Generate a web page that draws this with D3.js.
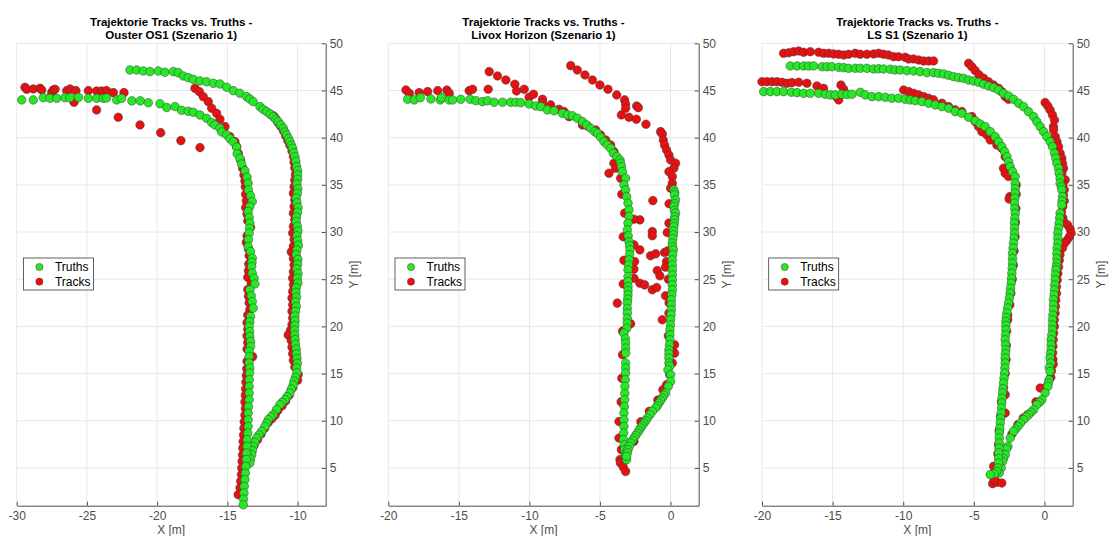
<!DOCTYPE html>
<html>
<head>
<meta charset="utf-8">
<script src="https://cdn.jsdelivr.net/npm/d3@7"></script>
<style>
  body { margin: 0; background: #fff; }
  svg { display: block; font-family: "Liberation Sans", Arial, sans-serif; }
  .tick text { fill: #4d4d4d; font-size: 12px; }
  .domain, .tick line { stroke: #4d4d4d; }
</style>
</head>
<body>
<svg id="chart" width="1113" height="536"></svg>
<script>
// ---- data ----
const titleLine1 = 'Trajektorie Tracks vs. Truths -';
const sensorTitles = ['Ouster OS1 (Szenario 1)', 'Livox Horizon (Szenario 1)', 'LS S1 (Szenario 1)'];
const legendLabels = ['Truths', 'Tracks'];
const xTicksOS1 = [-30, -25, -20, -15, -10];
const xTicksOther = [-20, -15, -10, -5, 0];
const yTicks = [5, 10, 15, 20, 25, 30, 35, 40, 45, 50];

const os1Truths = [
  [-21.93,47.17],[-21.46,47.17],[-20.99,47.07],[-20.51,47.0],[-19.92,47.07],[-19.45,46.93],[-18.85,47.0],[-18.5,46.89],[-18.14,46.54],[-17.79,46.36],[-17.43,46.19],[-16.95,46.01],[-16.48,45.93],[-16.0,45.76],[-15.53,45.69],[-15.05,45.34],[-14.58,44.98],[-14.11,44.71],[-13.63,44.35],[-13.4,44.1],[-13.16,43.82],[-12.68,43.29],[-12.45,43.0],[-12.2,42.76],[-11.95,42.5],[-11.74,42.23],[-11.55,41.95],[-11.38,41.7],[-11.2,41.35],[-11.02,41.0],[-10.9,40.6],[-10.78,40.29],[-10.65,39.9],[-10.55,39.58],[-10.45,39.2],[-10.36,38.88],[-10.28,38.4],[-10.19,37.99],[-10.12,37.5],[-10.07,36.93],[-10.0,36.5],[-10.0,36.05],
  [-10.0,35.6],[-10.05,35.1],[-9.98,34.6],[-10.02,34.1],[-10.1,33.6],[-10.05,33.1],[-9.97,32.6],[-10.0,32.1],[-10.08,31.6],[-10.1,31.1],[-10.02,30.6],[-9.98,30.1],[-10.05,29.6],[-10.0,29.1],[-9.95,28.6],[-10.05,28.1],[-10.1,27.6],[-9.98,27.1],[-10.0,26.6],[-10.05,26.1],[-9.97,25.6],[-10.02,25.1],[-9.98,24.6],[-10.1,24.1],[-10.12,23.6],[-10.08,23.1],[-10.15,22.6],[-10.1,22.1],[-10.15,21.6],[-10.2,21.1],[-10.18,20.6],[-10.2,20.1],[-10.22,19.6],[-10.2,19.1],[-10.18,18.6],[-10.15,18.1],[-10.1,17.6],[-10.08,17.1],[-10.05,16.6],[-10.02,16.1],[-10.07,15.6],[-10.05,15.1],[-10.15,14.6],[-10.25,14.2],[-10.31,13.8],[-10.45,13.35],[-10.55,12.94],[-10.75,12.55],[-10.9,12.23],[-11.1,11.95],[-11.26,11.7],[-11.5,11.2],[-11.74,10.64],[-11.9,10.4],[-12.09,10.11],[-12.2,9.75],[-12.33,9.4],[-12.56,8.87],[-12.75,8.5],[-12.92,8.17],[-13.05,7.7],[-13.16,7.29],[-13.22,6.85],[-13.27,6.41],[-13.35,5.95],[-13.4,5.53],
  [-29.64,44.0],[-28.82,44.0],[-28.1,44.24],[-27.63,44.17],[-27.15,44.17],[-26.56,44.24],[-26.2,44.24],[-25.6,44.27],[-24.9,44.17],[-24.3,44.17],[-23.84,44.17],[-23.6,44.2],[-22.88,44.0],[-22.53,44.17],[-21.8,43.9],[-21.2,43.9],[-20.63,43.7],[-19.8,43.6],[-19.32,43.2],[-18.73,43.3],[-18.26,42.9],[-17.79,42.8],[-17.43,42.7],[-16.95,42.4],[-16.48,42.05],[-16.12,41.6],[-15.89,41.35],[-15.53,41.0],[-15.4,40.6],[-15.05,40.3],[-14.82,39.9],[-14.58,39.55],[-14.34,39.0],[-14.3,38.3],[-14.1,37.8],[-13.99,37.2],[-13.75,36.5],[-13.6,35.8],
  [-13.52,35.17],[-13.5,34.47],[-13.35,33.85],[-13.23,33.23],[-13.4,32.7],[-13.52,32.17],[-13.45,31.55],[-13.4,30.94],[-13.42,30.4],[-13.45,29.88],[-13.5,29.2],[-13.52,28.46],[-13.35,27.93],[-13.23,27.23],[-13.25,26.8],[-13.27,26.34],[-13.23,25.64],[-13.1,25.1],[-13.04,24.5],[-13.4,23.88],[-13.3,23.25],[-13.23,22.64],[-13.16,21.94],[-13.35,21.05],[-13.4,20.5],[-13.45,20.0],[-13.42,19.45],[-13.4,18.93],[-13.35,18.4],[-13.35,17.87],[-13.45,17.35],[-13.45,16.82],[-13.45,16.12],[-13.4,15.6],[-13.42,15.06],[-13.44,14.35],[-13.45,13.64],[-13.45,12.95],[-13.45,12.23],[-13.5,11.5],[-13.52,10.82],[-13.52,10.1],[-13.52,9.4],[-13.55,8.7],[-13.59,8.0],[-13.6,7.3],[-13.63,6.59],[-13.65,5.9],[-13.68,5.17],[-13.72,4.45],[-13.75,3.76],[-13.8,3.05],[-13.82,2.35],[-13.85,1.7],[-13.87,1.1]
];
const os1Tracks = [
  [-29.41,45.34],[-29.29,45.13],[-28.82,45.16],[-28.34,45.23],[-28.22,45.05],[-27.51,44.77],[-27.4,45.05],[-27.27,45.13],[-26.44,44.98],[-26.2,45.16],[-25.78,44.98],[-25.92,43.75],[-24.9,44.98],[-24.31,44.95],[-23.95,44.95],[-23.6,44.98],[-23.12,44.77],[-22.36,44.77],
  [-24.31,42.94],[-22.77,42.16],[-21.22,41.35],[-19.75,40.53],[-18.31,39.69],[-16.95,38.95],
  [-17.31,45.23],[-17.0,44.88],[-16.72,44.35],[-16.36,43.82],[-16.12,43.12],[-15.77,42.59],[-15.53,41.95],[-15.17,41.17],[-14.82,40.11],[-14.46,39.58],[-14.34,39.05],[-14.23,38.35],[-14.06,37.64],[-13.91,36.76],[-13.82,36.05],
  [-13.75,35.4],[-13.72,34.8],[-13.7,34.0],[-13.65,33.3],[-13.7,32.6],[-13.6,31.9],[-13.55,31.2],[-13.35,30.5],[-13.6,29.6],[-13.65,28.9],[-13.5,28.2],[-13.45,27.5],[-13.48,26.6],[-13.5,25.9],[-13.55,25.2],[-13.3,24.6],[-13.55,23.9],[-13.5,23.2],[-13.45,22.5],[-13.4,21.8],[-13.55,21.2],[-13.6,20.4],[-13.55,19.7],[-13.6,19.0],[-13.55,18.3],[-13.6,17.6],[-13.2,16.8],[-13.6,16.3],[-13.62,15.5],[-13.65,14.8],[-13.68,14.1],[-13.7,13.4],[-13.72,12.7],[-13.75,12.0],[-13.72,11.3],[-13.75,10.6],[-13.8,9.9],[-13.82,9.2],[-13.85,8.5],[-13.88,7.8],[-13.9,7.1],[-13.92,6.4],[-13.95,5.7],[-13.98,5.0],[-14.0,4.3],[-14.05,3.6],[-14.1,2.9],[-14.23,2.17],
  [-11.9,42.45],[-11.7,42.3],[-11.55,42.0],[-11.4,41.6],[-11.2,41.2],[-11.0,40.7],[-10.85,40.2],[-10.7,39.7],[-10.55,39.2],[-10.4,38.6],[-10.3,38.0],[-10.25,37.4],[-10.2,36.8],[-10.15,36.1],
  [-10.2,35.5],[-10.25,34.8],[-10.3,34.1],[-10.2,33.4],[-10.25,32.7],[-10.3,32.0],[-10.2,31.3],[-10.3,30.6],[-10.35,29.9],[-10.25,29.2],[-10.3,28.5],[-10.45,27.9],[-10.3,27.2],[-10.25,26.5],[-10.3,25.8],[-10.35,25.1],[-10.3,24.4],[-10.35,23.7],[-10.4,23.0],[-10.35,22.3],[-10.4,21.6],[-10.35,20.9],[-10.4,20.2],[-10.5,19.6],[-10.67,19.1],[-10.45,18.5],[-10.4,17.8],[-10.35,17.1],[-10.3,16.4],[-10.2,15.7],[-9.96,14.9],[-10.0,14.3],[-10.35,13.5],[-10.6,12.7],[-10.85,12.1],[-11.1,11.6],[-11.4,11.1],[-11.6,10.6],[-11.85,10.2],[-12.1,9.8],[-12.35,9.2],[-12.6,8.6],[-12.85,8.0],[-13.1,7.4]
];

const livoxTruths = [
  [-18.63,44.07],[-18.16,44.0],[-17.73,44.24],[-16.98,44.1],[-16.32,44.0],[-16.22,44.24],[-15.68,44.0],[-15.44,44.0],[-14.86,44.07],[-14.2,44.07],[-13.79,43.92],[-13.32,43.82],[-12.97,43.92],[-12.5,43.75],[-11.9,43.75],[-11.32,43.75],[-10.96,43.75],[-10.61,43.71],[-10.02,43.57],[-9.55,43.36],[-9.19,43.29],[-8.72,42.94],[-8.25,42.86],[-7.66,42.59],[-7.3,42.41],[-6.95,42.33],[-6.6,42.06],[-6.24,41.7],[-5.94,41.35],[-5.65,41.0],[-5.37,40.64],[-5.18,40.47],[-4.95,40.05],[-4.71,39.58],[-4.47,39.23],[-4.24,38.88],[-4.05,38.35],[-3.8,38.0],[-3.58,37.64],[-3.53,37.29],[-3.48,36.93],[-3.41,36.4],[-3.18,35.7],
  [-3.3,35.0],[-3.18,34.47],[-3.11,33.76],[-3.01,33.06],[-2.94,32.35],[-2.94,31.64],[-3.01,30.94],[-3.06,30.23],[-3.0,29.6],[-2.94,28.99],[-2.9,28.55],[-2.87,28.11],[-2.9,27.6],[-2.94,27.05],[-2.97,26.5],[-3.01,25.99],[-3.01,25.29],[-3.01,24.75],[-3.01,24.23],[-3.01,23.8],[-3.01,23.35],[-3.03,22.9],[-3.06,22.47],[-3.06,21.9],[-3.06,21.41],[-3.06,20.85],[-3.06,20.35],[-3.1,19.8],[-3.3,19.29],[-3.2,18.7],[-3.18,18.23],[-3.18,17.7],[-3.18,17.17],
  [-3.18,16.12],[-3.18,15.6],[-3.18,15.06],[-3.2,14.35],[-3.23,13.64],[-3.24,12.9],[-3.25,12.23],[-3.27,11.5],[-3.3,10.82],[-3.3,10.1],[-3.3,9.4],[-3.32,8.7],[-3.34,8.0],[-3.28,7.45],[-3.25,6.94],[-3.2,6.5],[-3.18,6.23],[-3.11,5.88],
  [0.24,34.47],[0.3,34.2],[0.29,33.94],[0.36,33.41],[0.3,33.0],[0.24,32.7],[0.28,32.3],[0.36,32.0],[0.3,31.6],[0.29,31.29],[0.26,30.9],[0.24,30.58],[0.22,30.1],[0.2,29.7],[0.16,29.3],[0.13,28.82],[0.15,28.45],[0.2,28.11],[0.16,27.6],[0.13,27.05],[0.13,26.5],[0.13,25.99],[0.13,25.45],[0.13,24.94],[0.13,24.4],[0.13,23.88],[0.1,23.35],[0.06,22.82],[0.06,22.3],[0.06,21.76],[0.04,21.25],[0.01,20.7],[0.0,20.15],[-0.04,19.64],[-0.04,19.1],[-0.04,18.58],[-0.07,18.05],[-0.11,17.52],[-0.11,17.1],[-0.11,16.64],
  [-0.11,16.12],[-0.05,15.8],[-0.18,15.41],[0.01,14.88],[0.01,14.17],[-0.16,13.64],[-0.35,12.94],[-0.47,12.7],[-0.58,12.41],[-0.7,12.15],[-0.82,11.88],[-0.93,11.6],[-1.05,11.35],[-1.29,11.0],[-1.45,10.65],[-1.64,10.29],[-1.75,10.0],[-1.88,9.76],[-2.0,9.5],[-2.12,9.23],[-2.24,8.95],[-2.35,8.7],[-2.47,8.45],[-2.59,8.17],[-2.7,7.9],[-2.82,7.64],[-2.92,7.3],[-3.01,6.94],[-3.06,6.6],[-3.11,6.23]
];
const livoxTracks = [
  [-18.75,45.05],[-18.51,44.7],[-17.81,44.77],[-17.21,44.88],[-16.5,44.98],[-15.85,45.05],[-15.68,44.7],[-14.27,44.98],[-14.03,45.13],[-12.92,45.13],[-12.85,47.0],[-12.26,46.54],[-11.67,46.11],[-11.03,45.66],[-10.91,44.95],[-10.37,45.13],[-10.02,44.28],[-9.71,44.6],[-9.07,44.07],[-9.07,43.71],[-8.49,43.47],[-7.9,43.01],[-7.54,42.76],[-7.19,42.23],[-6.24,41.35],[-5.89,41.24],[-5.3,40.82],[-4.95,40.29],[-4.59,39.76],[-4.24,39.23],[-4.01,38.52],[-4.01,37.29],[-3.89,36.76],[-4.36,36.23],[-3.53,35.7],
  [-7.07,47.63],[-6.6,47.17],[-6.06,46.64],[-5.53,46.11],[-5.0,45.58],[-4.43,45.13],[-3.81,44.53],[-3.25,44.0],[-3.18,43.57],[-3.18,43.12],[-2.4,43.36],[-2.28,43.18],[-3.48,42.41],[-2.94,42.16],[-2.42,41.95],[-1.74,41.42],[-0.7,40.64],[-0.58,40.4],[-0.51,39.76],[-0.42,39.23],[-0.28,38.7],[-0.11,38.17],[0.01,37.64],[0.36,37.29],[0.24,36.76],[-0.11,36.4],[0.13,35.88],
  [0.13,35.17],[0.01,34.65],[-1.25,33.33],[-2.17,31.29],[-2.59,31.36],[-3.25,32.0],[-1.29,30.05],[-1.29,29.6],[-0.23,29.95],[-0.11,30.94],[-2.59,28.64],[-2.17,28.11],[-1.41,27.48],[-1.05,27.69],[-0.42,27.83],[-0.28,26.87],[-0.35,26.28],[-0.94,25.92],[-0.75,25.36],[-2.59,26.07],[-2.54,26.87],[-2.59,25.11],[-2.17,24.58],[-1.83,24.4],[-1.29,23.88],[-0.98,24.12],[-0.35,23.24],[-0.58,20.7],[-3.77,22.47],[-2.82,20.28],[0.29,17.17],[0.29,18.05],[-0.11,21.41],
  [-3.45,34.0],[-3.35,29.5],[-3.3,27.0],[-3.35,24.5],[-3.4,19.5],[-3.4,17.0],[-3.45,14.5],[-3.5,12.0],[-3.65,9.93],[-3.65,8.17],[-3.48,6.94],[-3.58,5.88],[-3.55,5.53],[-3.35,5.1],[-3.18,4.64],
  [-0.1,33.0],[-0.2,28.0],[-0.15,25.0],[-0.1,22.5],[-0.15,19.0],[0.13,16.12],[-0.06,14.9],[-0.28,13.82],[-0.54,13.29],[-0.9,12.2],[-1.5,11.0],[-2.1,9.9],[-2.59,7.82]
];

const ls1Truths = [
  [-18.0,47.6],[-17.52,47.6],[-17.05,47.6],[-16.7,47.6],[-16.34,47.6],[-15.75,47.52],[-15.4,47.52],[-15.05,47.52],[-14.57,47.46],[-14.22,47.42],[-13.87,47.35],[-13.4,47.35],[-13.04,47.35],[-12.57,47.35],[-12.1,47.28],[-11.75,47.3],[-11.39,47.28],[-10.92,47.25],[-10.57,47.17],[-10.21,47.17],[-9.74,47.1],[-9.27,47.07],[-8.8,47.0],[-8.32,46.89],[-7.85,46.89],[-7.5,46.82],[-7.14,46.75],[-6.79,46.61],[-6.43,46.46],[-6.08,46.36],[-5.73,46.29],[-5.37,46.11],[-5.02,46.01],[-4.66,45.87],[-4.31,45.66],[-3.96,45.48],[-3.6,45.3],[-3.25,45.05],[-2.9,44.7],[-2.54,44.42],[-2.19,44.07],[-1.83,43.65],[-1.48,43.29],[-1.13,42.76],[-0.77,42.23],[-0.54,41.7],[-0.3,41.17],[-0.06,40.64],[0.17,40.11],[0.4,39.58],[0.57,39.05],[0.71,38.35],[0.81,37.82],[0.88,37.29],[1.0,36.76],[1.04,36.23],[1.11,35.7],
  [1.11,35.17],[1.2,34.8],[1.23,34.47],[1.28,33.76],[1.25,33.3],[1.23,32.88],[1.11,32.0],[1.08,31.5],[1.04,30.94],[1.0,30.4],[0.95,29.88],[0.95,29.35],[0.95,28.82],[0.9,28.3],[0.88,27.76],[0.88,27.2],[0.88,26.7],[0.85,26.3],[0.81,25.99],[0.78,25.45],[0.76,24.94],[0.73,24.4],[0.71,23.88],[0.68,23.35],[0.64,22.82],[0.64,22.3],[0.64,21.76],[0.6,21.2],[0.57,20.7],[0.57,20.15],[0.57,19.64],[0.52,19.1],[0.47,18.58],[0.47,18.05],[0.47,17.52],[0.43,17.1],[0.4,16.64],[0.45,16.12],[0.35,15.65],[0.4,15.23],[0.33,14.35],[0.28,14.0],[0.24,13.64],[0.05,12.94],[-0.18,12.23],[-0.36,11.95],[-0.54,11.7],[-0.77,11.17],[-0.95,10.9],[-1.13,10.64],[-1.3,10.4],[-1.48,10.11],[-1.7,9.75],[-1.88,9.4],[-2.05,9.1],[-2.19,8.87],[-2.43,8.17],[-2.59,7.29],[-2.7,7.0],[-2.78,6.41],[-2.9,6.0],[-2.97,5.7],[-3.06,5.0],[-3.2,4.47],
  [-19.88,44.88],[-19.41,44.88],[-18.94,44.88],[-18.47,44.88],[-17.92,44.81],[-17.52,44.77],[-17.05,44.7],[-16.58,44.7],[-15.99,44.7],[-15.52,44.6],[-15.16,44.53],[-14.81,44.53],[-14.34,44.6],[-13.98,44.58],[-13.63,44.6],[-13.04,44.81],[-12.69,44.53],[-12.22,44.35],[-11.74,44.35],[-11.27,44.28],[-10.8,44.18],[-10.33,44.18],[-9.86,44.07],[-9.5,44.0],[-9.15,43.92],[-8.68,43.82],[-8.2,43.65],[-7.73,43.47],[-7.26,43.29],[-6.79,43.12],[-6.32,42.76],[-5.85,42.59],[-5.37,42.16],[-4.9,41.8],[-4.55,41.45],[-4.2,41.17],[-3.84,40.64],[-3.49,40.11],[-3.25,39.58],[-3.02,39.05],[-2.82,38.52],[-2.66,37.99],[-2.54,37.46],[-2.43,36.93],[-2.26,36.4],[-2.07,35.88],
  [-2.07,35.17],[-2.07,34.6],[-2.07,34.12],[-2.1,33.6],[-2.12,33.06],[-2.1,32.5],[-2.07,32.0],[-2.1,31.45],[-2.12,30.94],[-2.12,30.4],[-2.12,29.88],[-2.15,29.35],[-2.19,28.82],[-2.22,28.3],[-2.26,27.76],[-2.26,27.2],[-2.26,26.7],[-2.28,26.15],[-2.31,25.64],[-2.33,25.1],[-2.35,24.59],[-2.4,24.05],[-2.43,23.53],[-2.48,23.0],[-2.54,22.47],[-2.6,21.95],[-2.66,21.41],[-2.7,20.95],[-2.73,20.52],[-2.73,20.1],[-2.73,19.64],[-2.75,19.1],[-2.78,18.58],[-2.75,18.05],[-2.73,17.52],[-2.76,17.1],[-2.78,16.64],[-2.78,16.12],[-2.8,15.6],[-2.82,15.06],[-2.86,14.5],[-2.9,14.0],[-2.94,13.4],[-2.97,12.94],[-3.0,12.4],[-3.02,11.88],[-3.04,11.35],[-3.06,10.82],[-3.1,10.25],[-3.13,9.76],[-3.16,9.2],[-3.2,8.7],[-3.2,8.17],[-3.2,7.64],[-3.22,7.1],[-3.25,6.59],[-3.25,6.0],[-3.25,5.53],[-3.3,5.0],[-3.37,4.64],[-3.55,4.4],[-3.84,4.29]
];
const ls1Tracks = [
  [-18.47,48.94],[-18.11,49.0],[-17.76,49.11],[-17.4,49.18],[-17.05,49.05],[-16.58,49.11],[-15.99,49.05],[-15.64,48.94],[-15.28,48.94],[-14.93,48.87],[-14.57,48.84],[-14.22,48.76],[-13.87,48.84],[-13.4,48.94],[-13.04,48.84],[-12.57,48.84],[-12.1,48.87],[-11.74,48.94],[-11.39,48.84],[-11.04,48.76],[-10.68,48.58],[-10.33,48.58],[-9.86,48.52],[-9.62,48.34],[-9.27,48.34],[-8.91,48.23],[-8.56,48.13],[-8.2,48.13],[-7.85,48.13],
  [-20.0,45.93],[-19.65,45.93],[-19.29,45.93],[-18.94,45.93],[-18.58,45.87],[-18.23,45.76],[-17.88,45.83],[-17.4,45.87],[-16.82,45.76],[-16.11,45.48],[-15.64,45.23],[-14.74,44.35],[-14.57,44.0],[-14.41,45.58],[-14.22,45.13],[-14.1,44.7],
  [-9.97,45.05],[-9.62,44.88],[-9.27,44.7],[-8.91,44.53],[-8.56,44.35],[-8.2,44.18],[-7.85,44.0],[-7.26,43.65],[-6.79,43.29],[-6.32,42.94],[-5.85,42.76],[-5.14,42.23],[-4.9,41.7],[-4.66,41.17],[-4.43,40.64],[-4.08,40.29],[-3.84,39.76],[-3.37,39.23],[-3.02,38.88],[-2.78,37.99],[-2.9,36.76],[-2.78,36.23],[-2.54,35.88],
  [-5.37,47.88],[-5.14,47.52],[-4.9,47.1],[-4.62,46.64],[-4.31,46.29],[-3.96,45.93],[-3.6,45.58],[-3.25,45.23],[-3.02,44.88],[-2.78,44.35],[-2.54,44.07],
  [0.05,43.71],[0.24,43.36],[0.4,42.94],[0.57,42.41],[0.71,41.88],[0.64,41.17],[0.64,40.82],[0.76,40.11],[0.88,39.58],[1.0,39.05],[1.11,38.35],[1.23,37.82],[1.28,37.29],[1.35,36.76],[1.23,36.23],[1.47,35.53],
  [1.3,35.0],[1.4,34.5],[1.35,33.9],[1.4,33.3],[1.3,32.7],[1.2,32.1],[1.3,31.5],[1.35,31.1],[1.63,30.76],[1.82,30.3],[1.89,29.88],[1.75,29.46],[1.58,29.1],[1.42,28.82],[1.28,28.3],[1.1,27.6],[1.05,27.0],[1.0,26.3],[0.95,25.6],[0.9,24.9],[0.85,24.2],[0.85,23.5],[0.8,22.8],[0.78,22.1],[0.75,21.4],[0.7,20.7],[0.7,20.0],[0.65,19.3],[0.62,18.6],[0.6,17.9],[0.58,17.2],[0.6,16.5],[0.62,16.0],[0.5,15.3],[0.45,14.6],[0.17,13.64],[-0.3,13.47],[-0.6,12.0],[-1.2,10.64],[-1.5,10.3],[-1.88,9.6],[-2.3,8.6],
  [-2.0,35.0],[-2.0,34.0],[-2.45,33.76],[-2.5,33.5],[-2.02,32.5],[-2.05,31.0],[-2.08,29.5],[-2.15,28.0],[-2.2,26.5],[-2.28,25.0],[-2.38,23.5],[-2.45,22.3],[-2.6,21.2],[-2.6,20.7],[-2.68,19.5],[-2.7,18.0],[-2.72,16.5],[-2.78,15.0],[-2.9,13.5],[-2.78,12.77],[-2.78,10.82],[-3.05,12.0],[-3.1,10.5],[-3.2,9.0],[-3.25,7.5],[-3.3,6.5],[-3.6,5.17],[-3.72,4.29],[-3.67,3.34],[-3.37,3.48],[-3.02,3.41],[-3.55,3.8]
];

// ---- layout ----
const svg = d3.select('#chart');
const plotTop = 43.3, plotBottom = 505.7;
const truthColor = '#26e826', trackColor = '#e81010';

const panels = [
  {title: sensorTitles[0], xDomain: [-30, -8], xTicks: xTicksOS1, truths: os1Truths, tracks: os1Tracks, left: 16.7, right: 325.7},
  {title: sensorTitles[1], xDomain: [-20, 2], xTicks: xTicksOther, truths: livoxTruths, tracks: livoxTracks, left: 388.3, right: 698.7},
  {title: sensorTitles[2], xDomain: [-20, 2], xTicks: xTicksOther, truths: ls1Truths, tracks: ls1Tracks, left: 762, right: 1072.7}
];

panels.forEach(p => {
  const g = svg.append('g');
  const x = d3.scaleLinear().domain(p.xDomain).range([p.left, p.right]);
  const y = d3.scaleLinear().domain([1, 50]).range([plotBottom, plotTop]);

  // grid
  g.selectAll('.gx').data(p.xTicks).enter().append('line')
    .attr('x1', d => x(d)).attr('x2', d => x(d))
    .attr('y1', plotTop).attr('y2', plotBottom)
    .attr('stroke', '#e8e8e8').attr('stroke-width', 1);
  g.selectAll('.gy').data(yTicks).enter().append('line')
    .attr('x1', p.left).attr('x2', p.right)
    .attr('y1', d => y(d)).attr('y2', d => y(d))
    .attr('stroke', '#e8e8e8').attr('stroke-width', 1);

  // axes (ticks pointing inward, like MATLAB)
  g.append('g')
    .attr('transform', `translate(0, ${plotBottom})`)
    .call(d3.axisBottom(x).tickValues(p.xTicks).tickFormat(d => String(d))
      .tickSizeInner(-4).tickSizeOuter(0).tickPadding(6));
  g.append('g')
    .attr('transform', `translate(${p.right}, 0)`)
    .call(d3.axisRight(y).tickValues(yTicks).tickFormat(d => String(d))
      .tickSizeInner(-4).tickSizeOuter(0).tickPadding(4));

  // markers: tracks below, truths on top
  const dots = (data, color) => g.append('g').selectAll('circle').data(data).enter().append('circle')
    .attr('cx', d => x(d[0])).attr('cy', d => y(d[1])).attr('r', 4.3)
    .attr('fill', color).attr('stroke', '#3a3a3a').attr('stroke-width', 0.5);
  dots(p.tracks, trackColor);
  dots(p.truths, truthColor);

  // titles
  const cx = (p.left + p.right) / 2;
  g.append('text').attr('x', cx).attr('y', 25.5).attr('text-anchor', 'middle')
    .style('font-size', '11.5px').style('font-weight', 'bold').attr('fill', '#000').text(titleLine1);
  g.append('text').attr('x', cx).attr('y', 39).attr('text-anchor', 'middle')
    .style('font-size', '11.5px').style('font-weight', 'bold').attr('fill', '#000').text(p.title);

  // axis labels
  g.append('text').attr('x', cx).attr('y', 533.5).attr('text-anchor', 'middle')
    .style('font-size', '12px').attr('fill', '#4d4d4d').text('X [m]');
  g.append('text').attr('transform', `translate(${p.right + 32}, ${(plotTop + plotBottom) / 2}) rotate(-90)`)
    .attr('text-anchor', 'middle').style('font-size', '12px').attr('fill', '#4d4d4d').text('Y [m]');

  // legend
  const lx = p.left + 6.7, ly = 258;
  const lg = g.append('g').attr('transform', `translate(${lx}, ${ly})`);
  lg.append('rect').attr('width', 70).attr('height', 32)
    .attr('fill', '#fff').attr('stroke', '#3a3a3a').attr('stroke-width', 0.8);
  const entries = lg.selectAll('.entry').data(legendLabels).enter().append('g')
    .attr('transform', (d, i) => `translate(0, ${9 + i * 14.7})`);
  entries.append('circle').attr('cx', 16).attr('cy', 0).attr('r', 3.6)
    .attr('fill', (d, i) => i === 0 ? truthColor : trackColor)
    .attr('stroke', '#3a3a3a').attr('stroke-width', 0.5);
  entries.append('text').attr('x', 31.5).attr('y', 4.2)
    .style('font-size', '12px').attr('fill', '#000').text(d => d);
});
</script>
</body>
</html>
